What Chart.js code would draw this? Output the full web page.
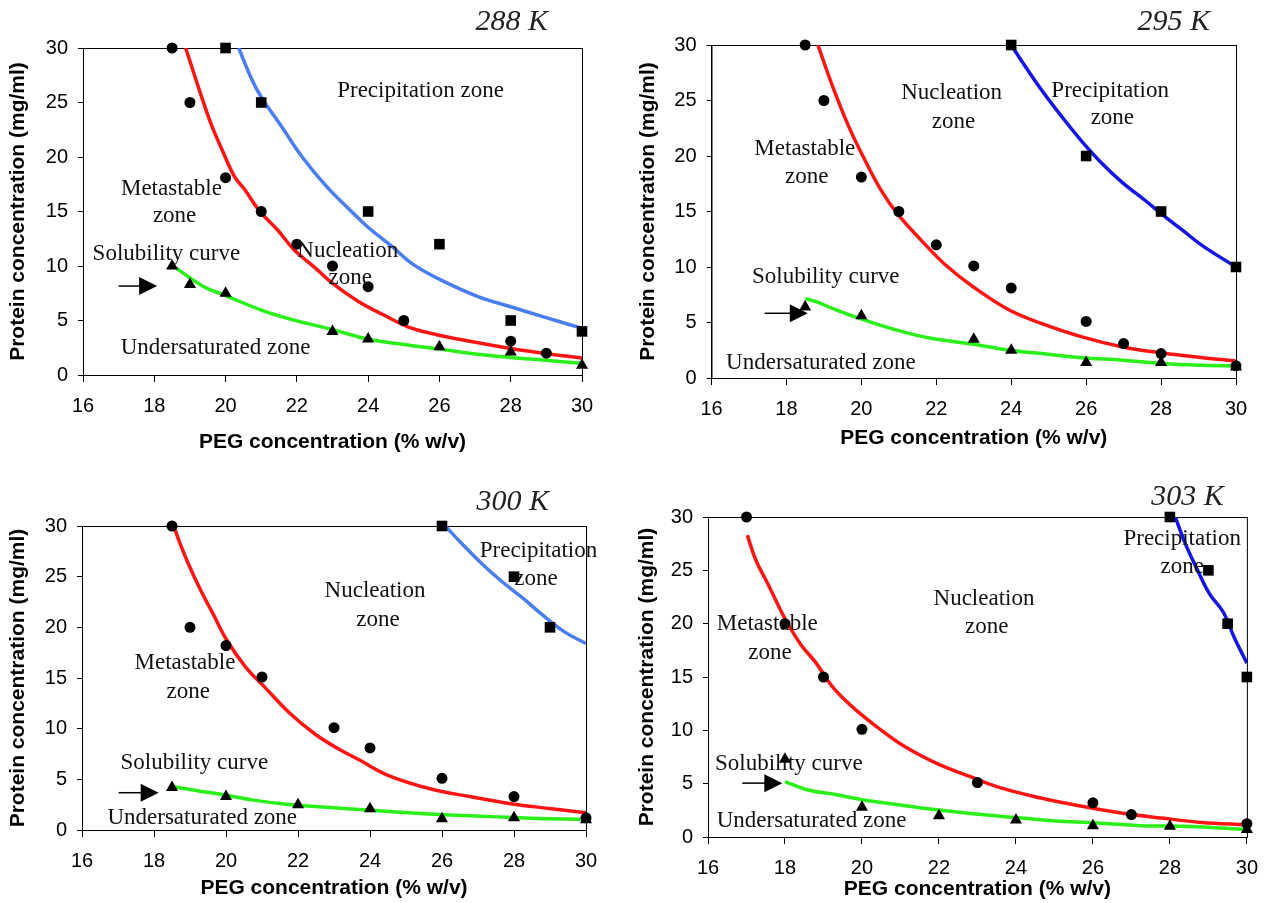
<!DOCTYPE html>
<html>
<head>
<meta charset="utf-8">
<script src="https://cdn.jsdelivr.net/npm/chart.js@4.4.0/dist/chart.umd.min.js"></script>
<style>
  body { margin: 0; background: #fff; width: 1270px; height: 903px; position: relative; overflow: hidden; }
  canvas { position: absolute; }
</style>
</head>
<body>
<canvas id="c288" width="640" height="460" style="left:0px;top:0px"></canvas>
<canvas id="c295" width="640" height="460" style="left:630px;top:0px"></canvas>
<canvas id="c300" width="640" height="443" style="left:0px;top:460px"></canvas>
<canvas id="c303" width="640" height="443" style="left:630px;top:460px"></canvas>
<script>
// axis ticks
const xTicks = [16, 18, 20, 22, 24, 26, 28, 30];
const yTicks = [0, 5, 10, 15, 20, 25, 30];
const xTitle = "PEG concentration (% w/v)";
const yTitle = "Protein concentration (mg/ml)";

// 288 K  - [PEG %, protein mg/ml]
const circ288 = [[18.5,30],[19,25],[20,18.1],[21,15],[22,12],[23,10],[24,8.1],[25,5],[28,3.1],[29,2]];
const sq288 = [[20,30],[21,25],[24,15],[26,12],[28,5],[30,4]];
const tri288 = [[18.5,10],[19,8.3],[20,7.5],[23,4],[24,3.3],[26,2.6],[28,2.1],[30,0.9]];
const red288 = [[18.88,30],[19.36,25.2],[19.62,22.8],[19.91,20.6],[20.25,18.2],[20.54,17],[20.94,15.1],[21.46,13.3],[21.92,11.5],[22.49,9.9],[23,8.4],[23.75,6.7],[24.44,5.5],[25.13,4.4],[25.93,3.7],[26.85,3.1],[28,2.44],[28.91,2],[30,1.55]];
const blue288 = [[20.37,30],[20.71,27.3],[21,25.5],[21.57,22.8],[22.15,20],[22.83,17.3],[23.41,15.4],[23.98,13.6],[24.67,11.8],[25.24,10.2],[26.05,8.7],[27.08,7.2],[28,6.26],[28.9,5.35],[30,4.28]];
const green288 = [[18.48,10.1],[19.39,8.1],[19.97,7.33],[21,5.96],[21.92,5.04],[23.06,4.12],[23.98,3.3],[25.01,2.8],[26.05,2.35],[27.08,1.9],[28,1.6],[28.9,1.37],[30,1.07]];

// 295 K
const circ295 = [[18.5,30],[19,25],[20,18.1],[21,15],[22,12],[23,10.1],[24,8.1],[26,5.1],[27,3.1],[28,2.2],[30,1.1]];
const sq295 = [[24,30],[26,20],[28,15],[30,10]];
const tri295 = [[18.5,6.4],[20,5.6],[23,3.5],[24,2.5],[26,1.4],[28,1.4],[30,1]];
const red295 = [[18.84,30],[19.24,26.2],[19.67,22.6],[20.1,19.6],[20.53,16.9],[20.96,14.8],[21.6,12.4],[22.24,10.2],[22.99,8.2],[23.96,6.1],[24.82,4.9],[25.89,3.7],[26.97,2.8],[28.04,2.25],[29.11,1.83],[30,1.53]];
const blue295 = [[24,30],[24.39,28],[24.82,25.9],[25.36,23.5],[25.89,21.3],[26.43,19.3],[26.97,17.6],[27.61,15.9],[28.04,14.7],[28.58,13.3],[29.11,11.9],[30,10]];
const green295 = [[18.5,7.15],[18.81,6.85],[19.24,6.25],[19.97,5.35],[20.96,4.3],[21.82,3.6],[22.99,3.05],[23.96,2.5],[24.82,2.2],[25.89,1.83],[26.97,1.6],[28.04,1.3],[29.11,1.14],[30,1.08]];

// 300 K
const circ300 = [[18.5,30],[19,20],[20,18.2],[21,15.1],[23,10.1],[24,8.1],[26,5.1],[28,3.3],[30,1.2]];
const sq300 = [[26,30],[28,25],[29,20]];
const tri300 = [[18.5,4.2],[20,3.3],[22,2.5],[24,2.1],[26,1.1],[28,1.2],[30,1]];
const red300 = [[18.55,30],[18.72,28.3],[18.95,26.3],[19.29,23.7],[19.63,21.4],[20.02,18.75],[20.54,16.1],[21.1,14],[21.78,11.5],[22.46,9.5],[23.03,8.2],[23.71,6.9],[24.5,5.4],[25.64,4.1],[26.77,3.3],[27.9,2.6],[29.04,2.1],[30,1.7]];
const blue300 = [[26.09,30],[26.54,28.3],[27.1,26.3],[27.67,24.5],[28.24,22.9],[28.8,21.2],[29.38,19.6],[30,18.4]];
const green300 = [[18.5,4.3],[19.17,3.9],[19.97,3.45],[20.76,2.95],[21.67,2.55],[22.8,2.24],[23.94,1.97],[25.07,1.7],[26.2,1.48],[27.34,1.32],[28.47,1.15],[30,1.05]];

// 303 K
const circ303 = [[17,30],[18,20],[19,15],[20,10.1],[23,5.1],[26,3.2],[27,2.1],[30,1.25]];
const sq303 = [[28,30],[29,25],[29.5,20],[30,15]];
const tri303 = [[18,7.3],[20,2.8],[22,2],[24,1.6],[26,1.05],[28,1],[30,0.7]];
const red303 = [[17.02,28.3],[17.25,25.9],[17.56,23.7],[17.98,20.6],[18.4,18.1],[18.81,16.3],[19.23,14.1],[19.75,12.2],[20.38,10.35],[21.1,8.5],[21.94,6.9],[22.78,5.7],[23.61,4.6],[24.65,3.65],[25.69,2.9],[26.74,2.25],[27.78,1.78],[28.82,1.37],[30,1.15]];
const blue303 = [[28.14,30],[28.4,27.5],[28.72,25],[29.03,22.8],[29.4,21],[29.66,18.8],[30,16.3]];
const green303 = [[18,5.2],[18.6,4.4],[19.34,3.96],[20.01,3.5],[21,3],[22.05,2.5],[23.1,2.1],[24.14,1.78],[25.17,1.47],[26.2,1.3],[27.26,1.06],[28.3,1],[29.34,0.84],[30,0.69]];

// zone labels [text, x, y] and arrows [from x, tip x, y]
const notes288 = [["Precipitation zone",25.47,26.1],["Metastable",18.48,17.1],["zone",18.57,14.6],["Solubility curve",18.34,11.1],["Nucleation",23.43,11.4],["zone",23.5,8.86],["Undersaturated zone",19.72,2.44]];
const notes295 = [["Nucleation",22.41,25.7],["zone",22.46,23.1],["Precipitation",26.64,25.9],["zone",26.7,23.4],["Metastable",18.49,20.6],["zone",18.54,18.1],["Solubility curve",19.05,9.07],["Undersaturated zone",18.92,1.35]];
const notes300 = [["Nucleation",24.14,23.6],["zone",24.22,20.7],["Precipitation",28.68,27.5],["zone",28.61,24.8],["Metastable",18.86,16.45],["zone",18.95,13.6],["Solubility curve",19.12,6.64],["Undersaturated zone",19.34,1.2]];
const notes303 = [["Precipitation",28.32,27.9],["zone",28.32,25.3],["Nucleation",23.17,22.3],["zone",23.24,19.7],["Metastable",17.54,19.97],["zone",17.61,17.3],["Solubility curve",18.1,6.86],["Undersaturated zone",18.69,1.47]];
const arrow288 = [17.0, 18.08, 8.16];
const arrow295 = [17.42, 18.57, 5.83];
const arrow300 = [17.02, 18.13, 3.68];
const arrow303 = [16.89, 17.93, 5.05];

Chart.defaults.color = '#000';
Chart.defaults.font.family = '"Liberation Sans", Arial, sans-serif';

const RED = '#ff1414', GREEN = '#2af01a', LIGHTBLUE = '#4a7ef0', DARKBLUE = '#1414e6';
const SERIF = '"Liberation Serif", "Times New Roman", serif';

const pts = arr => arr.map(p => ({x: p[0], y: p[1]}));

function notesPlugin(title, notes, arrow, titleDx, titleDy) {
    return {
        id: 'notes',
        beforeDatasetsDraw(chart) {
            const {ctx, chartArea: a} = chart;
            ctx.save();
            ctx.strokeStyle = '#000';
            ctx.lineWidth = 1;
            ctx.strokeRect(a.left + 0.5, a.top + 0.5, a.right - a.left, a.bottom - a.top);
            ctx.restore();
        },
        afterDatasetsDraw(chart) {
            const {ctx, chartArea: a, scales: {x, y}} = chart;
            ctx.save();
            ctx.fillStyle = '#111';
            ctx.font = '23px ' + SERIF;
            ctx.textAlign = 'center';
            ctx.textBaseline = 'middle';
            notes.forEach(n => ctx.fillText(n[0], x.getPixelForValue(n[1]), y.getPixelForValue(n[2])));

            // arrow pointing at solubility curve
            const x0 = x.getPixelForValue(arrow[0]), x1 = x.getPixelForValue(arrow[1]), ay = y.getPixelForValue(arrow[2]);
            ctx.strokeStyle = '#000';
            ctx.lineWidth = 1.5;
            ctx.beginPath(); ctx.moveTo(x0, ay); ctx.lineTo(x1 - 16, ay); ctx.stroke();
            ctx.fillStyle = '#000';
            ctx.beginPath(); ctx.moveTo(x1, ay); ctx.lineTo(x1 - 18, ay - 9); ctx.lineTo(x1 - 18, ay + 9); ctx.closePath(); ctx.fill();

            ctx.fillStyle = '#222';
            ctx.font = 'italic 30px ' + SERIF;
            ctx.textAlign = 'right';
            ctx.fillText(title, a.right - titleDx, a.top - titleDy);
            ctx.restore();
        }
    };
}

function makePanel(id, p) {
    const curve = (data, color) => ({ data: pts(data), showLine: true, pointRadius: 0, borderColor: color, borderWidth: 3.5, tension: 0.4 });
    new Chart(document.getElementById(id), {
        type: 'scatter',
        data: {
            datasets: [
                { data: pts(p.circ), pointStyle: 'circle', pointRadius: 5.5, backgroundColor: '#000', borderWidth: 0, clip: false },
                { data: pts(p.sq), pointStyle: 'rect', pointRadius: 7.5, backgroundColor: '#000', borderWidth: 0, clip: false },
                { data: pts(p.tri), pointStyle: 'triangle', pointRadius: 7, backgroundColor: '#000', borderWidth: 0, clip: false },
                curve(p.red, RED),
                curve(p.blue, p.blueColor),
                curve(p.green, GREEN)
            ]
        },
        options: {
            responsive: false,
            animation: false,
            events: [],
            layout: { padding: { left: 0, top: p.pad[0], right: p.pad[1], bottom: p.pad[2] } },
            plugins: { legend: { display: false }, tooltip: { enabled: false } },
            scales: {
                x: {
                    type: 'linear', min: 16, max: 30,
                    afterBuildTicks: s => { s.ticks = xTicks.map(v => ({value: v})); },
                    afterFit: s => { s.height = p.xh; },
                    ticks: { font: { size: 20 }, padding: 12, maxRotation: 0, autoSkip: false },
                    grid: { drawOnChartArea: false, tickLength: 7, color: '#000' },
                    border: { color: '#000', width: 1 },
                    title: { display: true, text: xTitle, font: { size: 21, weight: 'bold' }, padding: { top: 0, bottom: 1 } }
                },
                y: {
                    type: 'linear', min: 0, max: 30,
                    afterBuildTicks: s => { s.ticks = yTicks.map(v => ({value: v})); },
                    afterFit: s => { s.width = p.yw; },
                    ticks: { font: { size: 20 }, padding: 10 },
                    grid: { drawOnChartArea: false, tickLength: 5, color: '#000' },
                    border: { color: '#000', width: 1 },
                    title: { display: true, text: yTitle, font: { size: 21, weight: 'bold' }, padding: { top: p.ytp, bottom: 0 } }
                }
            }
        },
        plugins: [notesPlugin(p.title, p.notes, p.arrow, p.tdx, p.tdy)]
    });
}

makePanel('c288', { title: "288 K", circ: circ288, sq: sq288, tri: tri288, red: red288, blue: blue288, green: green288, blueColor: LIGHTBLUE,
    notes: notes288, arrow: arrow288, pad: [48, 58, 4], xh: 81, yw: 83, ytp: 5.4, tdx: 34, tdy: 26 });
makePanel('c295', { title: "295 K", circ: circ295, sq: sq295, tri: tri295, red: red295, blue: blue295, green: green295, blueColor: DARKBLUE,
    notes: notes295, arrow: arrow295, pad: [45, 34, 8], xh: 74, yw: 81.5, ytp: 5.4, tdx: 26, tdy: 23 });
makePanel('c300', { title: "300 K", circ: circ300, sq: sq300, tri: tri300, red: red300, blue: blue300, green: green300, blueColor: LIGHTBLUE,
    notes: notes300, arrow: arrow300, pad: [66, 54, 1], xh: 72, yw: 82, ytp: 5.4, tdx: 37, tdy: 24 });
makePanel('c303', { title: "303 K", circ: circ303, sq: sq303, tri: tri303, red: red303, blue: blue303, green: green303, blueColor: DARKBLUE,
    notes: notes303, arrow: arrow303, pad: [57, 22, 0], xh: 66, yw: 78, ytp: 4.4, tdx: 23, tdy: 20 });
</script>
</body>
</html>
